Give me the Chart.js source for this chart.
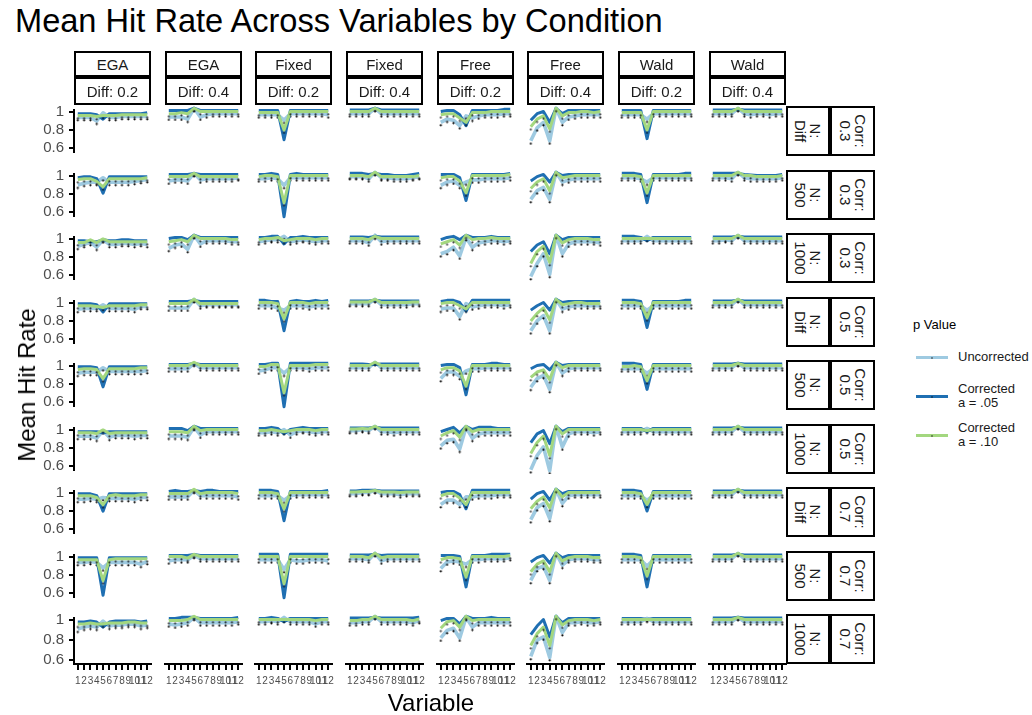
<!DOCTYPE html>
<html><head><meta charset="utf-8">
<script src="https://cdn.jsdelivr.net/npm/chart.js@4"></script>
<style>
body{margin:0;background:#fff;font-family:"Liberation Sans",Arial,sans-serif;}
#root{position:relative;width:1032px;height:715px;overflow:hidden;background:#fff;}
.strip{position:absolute;box-sizing:border-box;border:2px solid #000;background:#fff;display:flex;align-items:center;justify-content:center;font-size:15px;color:#1a1a1a;white-space:nowrap;}
.rot{transform:rotate(90deg);text-align:center;line-height:15px;white-space:pre;}
canvas{position:absolute;}
.txt{position:absolute;white-space:nowrap;color:#000;}
.lg{position:absolute;width:32px;height:3px;}
</style></head>
<body><div id="root"></div>
<script>
// ---------- categories / labels ----------
const methods = ['EGA','EGA','Fixed','Fixed','Free','Free','Wald','Wald'];
const diffs = ['Diff: 0.2','Diff: 0.4','Diff: 0.2','Diff: 0.4','Diff: 0.2','Diff: 0.4','Diff: 0.2','Diff: 0.4'];
const nLabels = ['N:\nDiff','N:\n500','N:\n1000','N:\nDiff','N:\n500','N:\n1000','N:\nDiff','N:\n500','N:\n1000'];
const corrLabels = ['Corr:\n0.3','Corr:\n0.3','Corr:\n0.3','Corr:\n0.5','Corr:\n0.5','Corr:\n0.5','Corr:\n0.7','Corr:\n0.7','Corr:\n0.7'];
const variables = [1,2,3,4,5,6,7,8,9,10,11,12];
const yTicks = [0.6,0.8,1];
const seriesNames = ['Uncorrected','Corrected\na = .05','Corrected\na = .10'];

// ---------- values: one 9x12 array per facet column and series (rows = N/Corr strips) ----------
const EGA2_unc = [
 [0.94,0.94,0.94,0.90,0.99,0.94,0.94,0.95,0.95,0.95,0.95,0.95],
 [0.90,0.92,0.93,0.93,0.98,0.93,0.93,0.93,0.93,0.94,0.95,0.96],
 [0.92,0.94,0.96,0.91,0.99,0.94,0.94,0.95,0.95,0.94,0.95,0.94],
 [0.93,0.94,0.94,0.94,0.98,0.94,0.94,0.94,0.94,0.93,0.96,0.96],
 [0.92,0.93,0.93,0.93,0.98,0.94,0.94,0.94,0.94,0.94,0.94,0.95],
 [0.93,0.93,0.93,0.91,0.99,0.92,0.94,0.94,0.94,0.93,0.94,0.94],
 [0.93,0.93,0.94,0.93,0.95,0.94,0.94,0.94,0.94,0.93,0.95,0.95],
 [0.94,0.94,0.95,0.94,0.88,0.94,0.94,0.94,0.94,0.94,0.92,0.95],
 [0.91,0.93,0.94,0.93,0.99,0.94,0.95,0.95,0.96,0.96,0.94,0.95]];
const EGA2_c05 = [
 [0.98,0.98,0.98,0.97,0.92,0.98,0.98,0.98,0.98,0.98,0.98,0.99],
 [0.98,0.99,0.99,0.97,0.81,0.99,0.99,0.99,0.99,0.99,0.99,0.99],
 [0.98,0.98,0.97,0.97,0.99,0.98,0.98,0.99,0.99,0.98,0.98,0.98],
 [0.99,0.99,0.99,0.98,0.90,0.99,0.99,0.99,0.99,0.99,0.99,0.99],
 [0.99,0.99,0.99,0.98,0.77,0.99,0.99,0.99,0.99,0.99,0.99,0.99],
 [0.98,0.98,0.98,0.98,0.97,0.98,0.98,0.98,0.98,0.98,0.98,0.98],
 [0.99,0.99,0.99,0.97,0.80,0.99,0.99,0.99,0.99,0.99,0.99,0.99],
 [0.99,0.99,0.99,0.99,0.58,0.99,0.99,0.99,0.99,0.99,0.99,0.99],
 [0.98,0.98,0.99,0.98,0.93,0.98,0.99,0.99,0.99,0.99,0.98,0.99]];
const EGA2_c10 = [
 [0.96,0.96,0.96,0.95,0.96,0.96,0.96,0.97,0.97,0.97,0.97,0.97],
 [0.96,0.97,0.97,0.94,0.88,0.97,0.97,0.97,0.97,0.97,0.97,0.98],
 [0.96,0.96,0.99,0.96,1.00,0.97,0.97,0.97,0.97,0.97,0.97,0.97],
 [0.97,0.97,0.97,0.96,0.95,0.97,0.97,0.97,0.97,0.97,0.98,0.98],
 [0.96,0.97,0.97,0.96,0.86,0.97,0.97,0.97,0.97,0.97,0.98,0.98],
 [0.97,0.97,0.97,0.96,1.00,0.96,0.97,0.97,0.97,0.97,0.97,0.97],
 [0.97,0.97,0.97,0.95,0.87,0.97,0.98,0.97,0.97,0.97,0.98,0.98],
 [0.97,0.97,0.97,0.97,0.74,0.97,0.98,0.98,0.98,0.98,0.98,0.98],
 [0.96,0.96,0.97,0.96,0.96,0.97,0.97,0.97,0.98,0.98,0.97,0.97]];

const EGA4_unc = [
 [0.92,0.92,0.92,0.90,1.00,0.92,0.94,0.95,0.95,0.95,0.95,0.95],
 [0.92,0.93,0.93,0.92,0.99,0.93,0.94,0.94,0.94,0.94,0.94,0.95],
 [0.88,0.91,0.92,0.87,1.00,0.92,0.95,0.95,0.95,0.95,0.94,0.94],
 [0.92,0.92,0.92,0.92,1.00,0.94,0.95,0.95,0.95,0.95,0.95,0.95],
 [0.94,0.94,0.94,0.94,0.99,0.95,0.95,0.95,0.95,0.95,0.95,0.95],
 [0.91,0.91,0.91,0.90,0.99,0.92,0.95,0.95,0.95,0.95,0.95,0.95],
 [0.93,0.93,0.93,0.93,0.99,0.94,0.94,0.94,0.94,0.94,0.94,0.93],
 [0.93,0.94,0.94,0.94,0.98,0.95,0.95,0.95,0.95,0.95,0.95,0.95],
 [0.93,0.92,0.93,0.94,0.99,0.94,0.94,0.94,0.94,0.94,0.94,0.95]];
const EGA4_c05 = [
 [0.98,0.98,0.98,0.98,1.00,0.98,0.98,0.98,0.98,0.98,0.98,0.98],
 [0.98,0.98,0.98,0.98,0.99,0.98,0.98,0.98,0.98,0.98,0.98,0.98],
 [0.97,0.98,0.98,0.96,1.00,0.98,0.98,0.98,0.98,0.98,0.98,0.98],
 [0.98,0.98,0.98,0.98,0.99,0.98,0.98,0.98,0.98,0.98,0.98,0.98],
 [0.98,0.98,0.98,0.98,0.99,0.98,0.98,0.98,0.98,0.98,0.98,0.98],
 [0.98,0.98,0.98,0.96,1.00,0.98,0.98,0.98,0.98,0.98,0.98,0.98],
 [0.98,0.99,0.98,0.98,0.99,0.98,0.99,0.99,0.98,0.98,0.98,0.98],
 [0.98,0.98,0.98,0.98,0.99,0.98,0.98,0.98,0.98,0.98,0.98,0.98],
 [0.98,0.98,0.99,0.99,0.99,0.98,0.98,0.98,0.98,0.98,0.98,0.99]];
const EGA4_c10 = [
 [0.95,0.95,0.96,0.95,1.00,0.97,0.97,0.97,0.97,0.97,0.97,0.97],
 [0.96,0.96,0.96,0.96,0.99,0.96,0.96,0.96,0.96,0.96,0.96,0.96],
 [0.94,0.95,0.96,0.94,1.00,0.97,0.97,0.97,0.97,0.97,0.96,0.96],
 [0.96,0.96,0.96,0.96,1.00,0.96,0.96,0.96,0.96,0.96,0.96,0.96],
 [0.97,0.97,0.97,0.97,1.00,0.97,0.97,0.97,0.97,0.97,0.97,0.97],
 [0.95,0.95,0.95,0.94,1.00,0.96,0.97,0.97,0.97,0.97,0.97,0.97],
 [0.96,0.96,0.96,0.96,1.00,0.96,0.97,0.97,0.97,0.97,0.97,0.96],
 [0.97,0.97,0.97,0.955,0.99,0.97,0.97,0.97,0.97,0.97,0.97,0.97],
 [0.96,0.96,0.96,0.97,1.00,0.97,0.97,0.97,0.97,0.97,0.97,0.97]];

const Fixed2_unc = [
 [0.94,0.94,0.94,0.94,0.89,0.95,0.95,0.95,0.95,0.95,0.95,0.94],
 [0.94,0.94,0.95,0.94,0.88,0.95,0.95,0.95,0.95,0.95,0.95,0.95],
 [0.94,0.95,0.96,0.96,0.99,0.94,0.95,0.96,0.95,0.94,0.95,0.95],
 [0.94,0.94,0.94,0.92,0.90,0.94,0.94,0.94,0.93,0.94,0.94,0.94],
 [0.92,0.93,0.95,0.95,0.90,0.95,0.95,0.95,0.94,0.95,0.95,0.95],
 [0.94,0.94,0.95,0.94,0.97,0.92,0.95,0.96,0.95,0.94,0.95,0.95],
 [0.94,0.94,0.94,0.94,0.90,0.94,0.95,0.95,0.95,0.95,0.95,0.95],
 [0.94,0.94,0.94,0.94,0.85,0.94,0.93,0.93,0.94,0.94,0.94,0.93],
 [0.95,0.95,0.96,0.95,0.99,0.95,0.95,0.95,0.95,0.93,0.95,0.95]];
const Fixed2_c05 = [
 [0.98,0.98,0.98,0.98,0.71,0.98,0.98,0.98,0.98,0.98,0.98,0.98],
 [0.98,0.98,0.99,0.98,0.59,0.98,0.99,0.98,0.98,0.98,0.98,0.98],
 [0.98,0.98,0.99,0.99,0.92,0.98,0.98,0.99,0.98,0.98,0.98,0.98],
 [0.99,0.99,0.98,0.98,0.71,0.98,0.99,0.98,0.98,0.99,0.98,0.99],
 [0.98,0.98,0.99,0.99,0.59,0.99,0.99,0.99,0.99,0.99,0.99,0.99],
 [0.98,0.98,0.99,0.98,0.93,0.97,0.98,0.99,0.98,0.98,0.98,0.98],
 [0.99,0.99,0.99,0.98,0.71,0.98,0.98,0.98,0.98,0.98,0.98,0.99],
 [0.99,0.99,0.99,0.99,0.59,0.99,0.99,0.99,0.99,0.99,0.99,0.99],
 [0.98,0.98,0.99,0.98,0.95,0.98,0.98,0.98,0.98,0.98,0.98,0.98]];
const Fixed2_c10 = [
 [0.96,0.96,0.96,0.96,0.80,0.97,0.97,0.97,0.97,0.97,0.97,0.97],
 [0.96,0.97,0.97,0.96,0.72,0.97,0.97,0.97,0.97,0.97,0.97,0.97],
 [0.96,0.97,0.97,0.98,0.95,0.96,0.97,0.97,0.97,0.96,0.97,0.97],
 [0.97,0.97,0.97,0.96,0.82,0.97,0.97,0.97,0.96,0.97,0.97,0.97],
 [0.96,0.96,0.98,0.98,0.72,0.97,0.97,0.97,0.97,0.98,0.98,0.98],
 [0.96,0.96,0.97,0.96,0.95,0.96,0.97,0.97,0.97,0.96,0.97,0.97],
 [0.97,0.97,0.97,0.96,0.82,0.97,0.97,0.97,0.97,0.97,0.97,0.97],
 [0.97,0.97,0.97,0.97,0.72,0.97,0.97,0.97,0.97,0.97,0.97,0.97],
 [0.97,0.97,0.97,0.97,0.97,0.97,0.97,0.97,0.97,0.96,0.97,0.97]];

const Fixed4_unc = [
 [0.95,0.95,0.95,0.95,1.00,0.95,0.95,0.95,0.95,0.95,0.95,0.95],
 [0.96,0.96,0.96,0.94,1.00,0.95,0.95,0.94,0.94,0.94,0.95,0.96],
 [0.95,0.95,0.95,0.93,1.00,0.94,0.95,0.95,0.95,0.95,0.95,0.95],
 [0.96,0.96,0.96,0.96,1.00,0.95,0.95,0.95,0.95,0.95,0.96,0.96],
 [0.95,0.95,0.95,0.95,1.00,0.95,0.95,0.95,0.95,0.95,0.95,0.95],
 [0.96,0.96,0.97,0.96,1.00,0.95,0.95,0.94,0.95,0.95,0.95,0.95],
 [0.96,0.96,0.97,0.97,0.99,0.96,0.96,0.96,0.95,0.96,0.96,0.96],
 [0.95,0.95,0.95,0.94,1.00,0.93,0.95,0.95,0.95,0.95,0.95,0.95],
 [0.94,0.94,0.95,0.95,1.00,0.95,0.95,0.95,0.95,0.95,0.94,0.96]];
const Fixed4_c05 = [
 [0.985,0.985,0.985,0.985,1.00,0.985,0.985,0.985,0.985,0.985,0.985,0.985],
 [0.99,0.99,0.99,0.98,0.99,0.98,0.98,0.97,0.97,0.97,0.98,0.99],
 [0.985,0.985,0.985,0.98,0.99,0.985,0.985,0.985,0.985,0.985,0.985,0.985],
 [0.985,0.985,0.985,0.985,0.99,0.985,0.985,0.985,0.985,0.985,0.985,0.985],
 [0.985,0.985,0.985,0.98,0.98,0.985,0.985,0.985,0.985,0.985,0.985,0.985],
 [0.985,0.985,0.985,0.985,0.99,0.985,0.985,0.985,0.985,0.985,0.985,0.985],
 [0.985,0.985,0.99,0.99,0.99,0.985,0.985,0.985,0.985,0.985,0.985,0.985],
 [0.985,0.985,0.985,0.985,0.99,0.98,0.985,0.985,0.985,0.985,0.985,0.985],
 [0.985,0.985,0.985,0.985,0.99,0.985,0.985,0.985,0.985,0.985,0.985,0.99]];
const Fixed4_c10 = [
 [0.97,0.97,0.97,0.97,1.00,0.97,0.97,0.97,0.97,0.97,0.97,0.97],
 [0.97,0.97,0.97,0.96,1.00,0.96,0.96,0.96,0.96,0.96,0.96,0.97],
 [0.97,0.97,0.97,0.96,0.99,0.97,0.97,0.97,0.97,0.97,0.97,0.97],
 [0.975,0.975,0.975,0.975,1.00,0.97,0.97,0.97,0.97,0.97,0.975,0.975],
 [0.97,0.97,0.97,0.97,1.00,0.97,0.97,0.97,0.97,0.97,0.97,0.97],
 [0.975,0.975,0.98,0.975,1.00,0.97,0.97,0.97,0.97,0.97,0.97,0.97],
 [0.975,0.975,0.98,0.98,0.99,0.975,0.975,0.975,0.97,0.975,0.975,0.975],
 [0.97,0.97,0.97,0.96,1.00,0.96,0.97,0.97,0.97,0.97,0.97,0.97],
 [0.96,0.96,0.97,0.97,1.00,0.97,0.97,0.97,0.97,0.97,0.96,0.975]];

const Free2_unc = [
 [0.87,0.90,0.89,0.84,0.93,0.91,0.93,0.94,0.94,0.94,0.95,0.95],
 [0.88,0.91,0.92,0.88,0.91,0.93,0.93,0.94,0.94,0.94,0.94,0.95],
 [0.83,0.85,0.89,0.81,0.98,0.89,0.93,0.94,0.95,0.95,0.94,0.95],
 [0.91,0.92,0.92,0.84,0.96,0.93,0.94,0.95,0.95,0.95,0.94,0.95],
 [0.85,0.91,0.91,0.87,0.92,0.94,0.94,0.95,0.95,0.95,0.95,0.95],
 [0.82,0.87,0.88,0.79,0.99,0.89,0.93,0.94,0.94,0.94,0.94,0.94],
 [0.86,0.90,0.90,0.86,0.93,0.93,0.94,0.94,0.94,0.95,0.95,0.95],
 [0.86,0.92,0.93,0.92,0.90,0.94,0.94,0.95,0.95,0.95,0.95,0.96],
 [0.80,0.87,0.89,0.80,0.99,0.90,0.94,0.94,0.94,0.94,0.94,0.94]];
const Free2_c05 = [
 [0.97,0.98,0.98,0.94,0.84,0.98,0.98,0.98,0.98,0.98,0.99,0.99],
 [0.98,0.98,0.98,0.95,0.74,0.98,0.98,0.98,0.98,0.98,0.98,0.99],
 [0.96,0.98,0.99,0.96,1.00,0.98,0.98,0.98,0.99,0.98,0.98,0.98],
 [0.98,0.99,0.99,0.97,0.89,0.99,0.99,0.99,0.99,0.99,0.99,0.99],
 [0.97,0.98,0.98,0.95,0.70,0.98,0.98,0.98,0.99,0.99,0.98,0.98],
 [0.95,0.97,0.99,0.94,1.00,0.97,0.99,0.99,0.99,0.98,0.98,0.98],
 [0.97,0.98,0.98,0.95,0.82,0.99,0.99,0.99,0.99,0.99,0.99,0.99],
 [0.98,0.98,0.98,0.97,0.69,0.98,0.98,0.98,0.99,0.99,0.99,0.99],
 [0.96,0.98,0.98,0.93,1.00,0.98,0.98,0.98,0.99,0.98,0.98,0.98]];
const Free2_c10 = [
 [0.94,0.95,0.95,0.91,0.87,0.96,0.96,0.96,0.97,0.97,0.97,0.97],
 [0.95,0.96,0.96,0.92,0.81,0.97,0.97,0.97,0.97,0.97,0.97,0.98],
 [0.92,0.94,0.96,0.91,1.00,0.96,0.97,0.97,0.98,0.97,0.97,0.97],
 [0.96,0.97,0.97,0.94,0.91,0.97,0.97,0.97,0.97,0.97,0.97,0.97],
 [0.93,0.95,0.95,0.92,0.78,0.97,0.97,0.97,0.97,0.97,0.97,0.97],
 [0.91,0.94,0.96,0.90,1.00,0.95,0.97,0.97,0.97,0.97,0.97,0.97],
 [0.94,0.96,0.96,0.92,0.86,0.97,0.97,0.97,0.97,0.97,0.97,0.97],
 [0.94,0.96,0.96,0.95,0.78,0.97,0.97,0.97,0.97,0.97,0.97,0.98],
 [0.89,0.95,0.96,0.90,1.00,0.96,0.97,0.97,0.97,0.97,0.97,0.97]];

const Free4_unc = [
 [0.70,0.82,0.87,0.70,1.00,0.87,0.92,0.93,0.94,0.94,0.94,0.94],
 [0.75,0.83,0.86,0.75,1.00,0.91,0.93,0.94,0.94,0.94,0.94,0.94],
 [0.62,0.74,0.83,0.64,1.00,0.83,0.92,0.94,0.94,0.94,0.94,0.93],
 [0.71,0.80,0.85,0.71,1.00,0.91,0.93,0.94,0.94,0.94,0.94,0.94],
 [0.77,0.85,0.88,0.75,1.00,0.90,0.94,0.95,0.95,0.95,0.95,0.95],
 [0.60,0.73,0.81,0.59,1.00,0.81,0.93,0.95,0.95,0.95,0.94,0.95],
 [0.72,0.83,0.87,0.73,1.00,0.87,0.94,0.95,0.95,0.95,0.95,0.95],
 [0.75,0.86,0.88,0.75,1.00,0.89,0.94,0.95,0.95,0.95,0.94,0.94],
 [0.63,0.78,0.81,0.62,1.00,0.85,0.94,0.94,0.95,0.94,0.94,0.95]];
const Free4_c05 = [
 [0.89,0.95,0.97,0.87,1.00,0.95,0.98,0.98,0.98,0.98,0.98,0.98],
 [0.92,0.96,0.98,0.91,1.00,0.97,0.98,0.98,0.98,0.98,0.98,0.98],
 [0.85,0.91,0.94,0.83,1.00,0.96,0.98,0.98,0.98,0.98,0.98,0.98],
 [0.90,0.94,0.97,0.90,1.00,0.97,0.98,0.98,0.98,0.98,0.98,0.98],
 [0.94,0.97,0.98,0.93,1.00,0.97,0.98,0.98,0.98,0.98,0.98,0.98],
 [0.85,0.93,0.96,0.84,1.00,0.95,0.98,0.98,0.98,0.98,0.98,0.98],
 [0.91,0.96,0.98,0.90,1.00,0.96,0.98,0.98,0.98,0.98,0.98,0.98],
 [0.92,0.96,0.98,0.91,1.00,0.96,0.98,0.98,0.98,0.98,0.98,0.98],
 [0.83,0.91,0.97,0.81,1.00,0.94,0.98,0.98,0.98,0.98,0.98,0.98]];
const Free4_c10 = [
 [0.83,0.90,0.93,0.81,1.00,0.93,0.96,0.96,0.97,0.97,0.96,0.97],
 [0.85,0.91,0.94,0.83,1.00,0.95,0.96,0.97,0.97,0.97,0.97,0.97],
 [0.74,0.85,0.90,0.75,1.00,0.93,0.96,0.97,0.97,0.97,0.96,0.96],
 [0.80,0.87,0.92,0.81,1.00,0.95,0.96,0.97,0.97,0.96,0.96,0.96],
 [0.86,0.91,0.93,0.84,1.00,0.95,0.97,0.97,0.97,0.97,0.97,0.97],
 [0.75,0.85,0.91,0.73,1.00,0.93,0.97,0.97,0.97,0.97,0.97,0.97],
 [0.82,0.89,0.93,0.83,1.00,0.93,0.97,0.97,0.97,0.97,0.97,0.97],
 [0.83,0.90,0.93,0.83,1.00,0.93,0.96,0.97,0.97,0.97,0.96,0.96],
 [0.73,0.84,0.90,0.73,1.00,0.92,0.96,0.97,0.97,0.97,0.96,0.97]];

const Wald2_unc = [
 [0.94,0.94,0.94,0.94,0.90,0.95,0.95,0.95,0.95,0.95,0.95,0.95],
 [0.95,0.95,0.95,0.94,0.91,0.95,0.95,0.95,0.95,0.95,0.95,0.95],
 [0.95,0.95,0.95,0.95,0.99,0.95,0.95,0.95,0.95,0.95,0.95,0.95],
 [0.94,0.94,0.94,0.94,0.90,0.94,0.94,0.94,0.94,0.94,0.94,0.94],
 [0.94,0.94,0.94,0.94,0.90,0.94,0.94,0.94,0.94,0.94,0.94,0.94],
 [0.95,0.95,0.95,0.95,0.98,0.95,0.95,0.95,0.95,0.95,0.95,0.95],
 [0.94,0.94,0.94,0.94,0.90,0.94,0.94,0.94,0.94,0.94,0.94,0.94],
 [0.94,0.94,0.94,0.94,0.88,0.94,0.94,0.94,0.94,0.94,0.94,0.94],
 [0.95,0.95,0.95,0.95,0.98,0.95,0.95,0.95,0.95,0.95,0.95,0.95]];
const Wald2_c05 = [
 [0.98,0.98,0.98,0.98,0.72,0.98,0.98,0.98,0.98,0.98,0.98,0.98],
 [0.99,0.99,0.99,0.98,0.72,0.98,0.98,0.98,0.98,0.98,0.99,0.99],
 [0.99,0.99,0.99,0.98,0.95,0.98,0.98,0.98,0.98,0.98,0.98,0.98],
 [0.99,0.99,0.99,0.98,0.74,0.98,0.98,0.98,0.98,0.98,0.99,0.99],
 [0.99,0.99,0.99,0.98,0.75,0.98,0.98,0.98,0.98,0.98,0.98,0.98],
 [0.98,0.98,0.98,0.98,0.95,0.98,0.98,0.98,0.98,0.98,0.98,0.98],
 [0.99,0.99,0.99,0.98,0.80,0.98,0.98,0.98,0.98,0.98,0.98,0.98],
 [0.99,0.99,0.99,0.98,0.69,0.98,0.98,0.98,0.98,0.98,0.98,0.98],
 [0.98,0.98,0.98,0.98,0.97,0.98,0.98,0.98,0.98,0.98,0.98,0.98]];
const Wald2_c10 = [
 [0.96,0.96,0.96,0.96,0.80,0.97,0.97,0.97,0.97,0.97,0.97,0.97],
 [0.97,0.97,0.97,0.96,0.81,0.97,0.97,0.97,0.97,0.97,0.97,0.97],
 [0.97,0.97,0.97,0.97,0.97,0.97,0.97,0.97,0.97,0.97,0.97,0.97],
 [0.97,0.97,0.97,0.96,0.83,0.97,0.97,0.97,0.97,0.97,0.97,0.97],
 [0.96,0.96,0.97,0.96,0.83,0.97,0.97,0.97,0.97,0.97,0.97,0.97],
 [0.97,0.97,0.97,0.97,0.96,0.97,0.97,0.97,0.97,0.97,0.97,0.97],
 [0.97,0.97,0.97,0.96,0.86,0.97,0.97,0.97,0.97,0.97,0.97,0.97],
 [0.97,0.97,0.97,0.96,0.79,0.97,0.97,0.97,0.97,0.97,0.97,0.97],
 [0.97,0.97,0.97,0.97,0.97,0.97,0.97,0.97,0.97,0.97,0.97,0.97]];

const Wald4_unc = [
 [0.95,0.95,0.95,0.95,1.00,0.95,0.94,0.95,0.95,0.94,0.95,0.95],
 [0.95,0.95,0.95,0.94,1.00,0.95,0.94,0.94,0.94,0.94,0.94,0.95],
 [0.95,0.95,0.96,0.95,1.00,0.95,0.95,0.95,0.95,0.95,0.95,0.95],
 [0.95,0.95,0.95,0.95,1.00,0.95,0.95,0.95,0.95,0.95,0.95,0.95],
 [0.95,0.95,0.95,0.95,0.99,0.95,0.95,0.95,0.95,0.95,0.95,0.95],
 [0.95,0.95,0.95,0.95,1.00,0.95,0.95,0.95,0.95,0.95,0.95,0.95],
 [0.95,0.95,0.95,0.95,1.00,0.95,0.95,0.95,0.95,0.95,0.95,0.95],
 [0.95,0.95,0.95,0.95,1.00,0.95,0.95,0.95,0.95,0.95,0.95,0.95],
 [0.95,0.95,0.95,0.95,0.99,0.95,0.95,0.95,0.95,0.95,0.95,0.95]];
const Wald4_c05 = [
 [0.985,0.985,0.985,0.985,0.99,0.985,0.985,0.985,0.985,0.985,0.985,0.985],
 [0.99,0.99,0.99,0.99,0.99,0.98,0.975,0.97,0.97,0.97,0.97,0.98],
 [0.985,0.985,0.985,0.985,0.99,0.985,0.985,0.985,0.985,0.985,0.985,0.985],
 [0.985,0.985,0.985,0.985,0.99,0.985,0.985,0.985,0.985,0.985,0.985,0.985],
 [0.985,0.985,0.985,0.985,0.99,0.985,0.985,0.985,0.985,0.985,0.985,0.985],
 [0.985,0.985,0.985,0.985,0.99,0.985,0.985,0.985,0.985,0.985,0.985,0.985],
 [0.985,0.985,0.985,0.985,0.99,0.985,0.985,0.985,0.985,0.985,0.985,0.985],
 [0.985,0.985,0.985,0.985,0.99,0.985,0.985,0.985,0.985,0.985,0.985,0.985],
 [0.985,0.985,0.985,0.985,0.99,0.985,0.985,0.985,0.985,0.985,0.985,0.985]];
const Wald4_c10 = [
 [0.97,0.97,0.97,0.97,1.00,0.97,0.97,0.97,0.97,0.97,0.97,0.97],
 [0.97,0.97,0.97,0.97,1.00,0.97,0.97,0.96,0.96,0.96,0.96,0.97],
 [0.97,0.97,0.97,0.97,1.00,0.97,0.97,0.97,0.97,0.97,0.97,0.97],
 [0.97,0.97,0.97,0.97,1.00,0.97,0.97,0.97,0.97,0.97,0.97,0.97],
 [0.97,0.97,0.97,0.97,0.99,0.97,0.97,0.97,0.97,0.97,0.97,0.97],
 [0.97,0.97,0.97,0.97,1.00,0.97,0.97,0.97,0.97,0.97,0.97,0.97],
 [0.97,0.97,0.97,0.97,1.00,0.97,0.97,0.97,0.97,0.97,0.97,0.97],
 [0.97,0.97,0.97,0.97,1.00,0.97,0.97,0.97,0.97,0.97,0.97,0.97],
 [0.97,0.97,0.97,0.97,0.99,0.97,0.97,0.97,0.97,0.97,0.97,0.97]];

const uncorrected = [EGA2_unc, EGA4_unc, Fixed2_unc, Fixed4_unc, Free2_unc, Free4_unc, Wald2_unc, Wald4_unc];
const corrected05 = [EGA2_c05, EGA4_c05, Fixed2_c05, Fixed4_c05, Free2_c05, Free4_c05, Wald2_c05, Wald4_c05];
const corrected10 = [EGA2_c10, EGA4_c10, Fixed2_c10, Fixed4_c10, Free2_c10, Free4_c10, Wald2_c10, Wald4_c10];

// ---------- styling / layout ----------
const FONT = '"Liberation Sans", Arial, sans-serif';
const COL_U = '#9ecae1', COL_05 = '#1f6fb2', COL_10 = '#a3d77f';
const colLeft = [74,165,255,346,437,527,618,709];
const rowTop = [106,170,233,297,360,424,487,551,614];
const PW = 77, PH = 50, PAD = 10, YAXW = 74, XAXH = 32;
const Y_MIN = 0.56, Y_MAX = 1.021;

Chart.defaults.font.family = FONT;
const root = document.getElementById('root');

function addDiv(cls, css, html) {
  const d = document.createElement('div');
  d.className = cls; Object.assign(d.style, css); d.innerHTML = html; root.appendChild(d); return d;
}

// small black marks drawn just below the uncorrected and a = .10 points
function makeDot(alpha) {
  const d = document.createElement('canvas');
  d.width = 5; d.height = 9;
  const c = d.getContext('2d'); c.fillStyle = 'rgba(0,0,0,' + alpha + ')';
  c.beginPath(); c.arc(2.5, 7.3, 1.1, 0, Math.PI*2); c.fill();
  return d;
}
const dotU = makeDot(1), dot10 = makeDot(0.75);

function makePanel(r, c) {
  const yAx = c === 0, xAx = r === rowTop.length - 1;
  const yW = yAx ? YAXW : 0, xH = xAx ? XAXH : 0;
  const cv = document.createElement('canvas');
  const w = PAD*2 + yW + PW, h = PAD*2 + PH + xH;
  cv.width = w; cv.height = h;
  cv.style.left = (colLeft[c] - PAD - yW) + 'px';
  cv.style.top = (rowTop[r] - PAD) + 'px';
  cv.style.width = w + 'px'; cv.style.height = h + 'px';
  root.appendChild(cv);
  const pts = arr => arr.map((v, i) => ({x: variables[i], y: v}));
  const xScale = { type: 'linear', min: 0.4, max: 12.6, display: xAx };
  const yScale = { type: 'linear', min: Y_MIN, max: Y_MAX, display: yAx };
  if (xAx) Object.assign(xScale, {
    afterFit: s => { s.height = XAXH; },
    afterBuildTicks: s => { s.ticks = variables.map(v => ({value: v})); },
    ticks: { autoSkip: false, maxRotation: 0, minRotation: 0, color: '#4d4d4d',
             font: { size: 10, family: FONT }, padding: 5, callback: v => String(v) },
    grid: { display: true, drawOnChartArea: false, drawTicks: true, tickLength: 6, color: '#000', lineWidth: 2 },
    border: { display: true, color: '#000', width: 2 } });
  if (yAx) Object.assign(yScale, {
    afterFit: s => { s.width = YAXW; },
    afterBuildTicks: s => { s.ticks = yTicks.map(v => ({value: v})); },
    ticks: { color: '#4d4d4d', font: { size: 15, family: FONT }, padding: 5,
             callback: v => (v === 1 ? '1' : v.toFixed(1)) },
    grid: { display: true, drawOnChartArea: false, drawTicks: true, tickLength: 5, color: '#000', lineWidth: 2 },
    border: { display: true, color: '#000', width: 2 } });
  new Chart(cv.getContext('2d'), {
    type: 'line',
    data: { datasets: [
      { label: seriesNames[0], data: pts(uncorrected[c][r]), borderColor: COL_U, backgroundColor: COL_U,
        borderWidth: 3.6, pointStyle: dotU, pointRadius: 2, order: 2 },
      { label: seriesNames[1], data: pts(corrected05[c][r]), borderColor: COL_05, backgroundColor: COL_05,
        borderWidth: 3, pointRadius: 0, order: 1 },
      { label: seriesNames[2], data: pts(corrected10[c][r]), borderColor: COL_10, backgroundColor: COL_10,
        borderWidth: 3, pointStyle: dot10, pointRadius: 2, order: 0 }
    ]},
    options: {
      responsive: false, animation: false, devicePixelRatio: 1, events: [],
      layout: { padding: PAD },
      plugins: { legend: { display: false }, tooltip: { enabled: false } },
      elements: { line: { tension: 0, borderJoinStyle: 'round' } },
      scales: { x: xScale, y: yScale }
    }
  });
}

for (let r = 0; r < rowTop.length; r++) for (let c = 0; c < colLeft.length; c++) makePanel(r, c);

// top strips
for (let c = 0; c < colLeft.length; c++) {
  addDiv('strip', {left: colLeft[c]+'px', top: '51px', width: PW+'px', height: '26px'}, methods[c]);
  addDiv('strip', {left: colLeft[c]+'px', top: '77px', width: PW+'px', height: '28px'}, diffs[c]);
}
// right strips
for (let r = 0; r < rowTop.length; r++) {
  addDiv('strip', {left: '786px', top: rowTop[r]+'px', width: '44px', height: PH+'px'},
         '<div class="rot">' + nLabels[r] + '</div>');
  addDiv('strip', {left: '830px', top: rowTop[r]+'px', width: '45px', height: PH+'px'},
         '<div class="rot">' + corrLabels[r] + '</div>');
}

// titles
addDiv('txt', {left: '15px', top: '5px', fontSize: '32.6px', lineHeight: '32px', color: '#000'}, 'Mean Hit Rate Across Variables by Condition');
addDiv('txt', {left: '431px', top: '691px', fontSize: '24px', lineHeight: '24px', transform: 'translateX(-50%)'}, 'Variable');
addDiv('txt', {left: '27px', top: '385px', fontSize: '24px', lineHeight: '24px', transform: 'translate(-50%,-50%) rotate(-90deg)'}, 'Mean Hit Rate');

// legend
addDiv('txt', {left: '913px', top: '318px', fontSize: '13px', lineHeight: '14px'}, 'p Value');
const legY = [357, 396, 435];
const legCols = [COL_U, COL_05, COL_10];
for (let i = 0; i < 3; i++) {
  addDiv('lg', {left: '916px', top: (legY[i]-1.5)+'px', background: legCols[i]}, '');
  addDiv('lg', {left: '931px', top: (legY[i]-0.5)+'px', width: '2px', height: '2px', background: 'rgba(0,0,0,0.35)'}, '');
  const lines = seriesNames[i].split('\n');
  addDiv('txt', {left: '958px', top: (legY[i] - 7*lines.length)+'px', fontSize: '13px', lineHeight: '14px', color: '#1a1a1a'},
         lines.join('<br>'));
}
</script>
</body></html>
